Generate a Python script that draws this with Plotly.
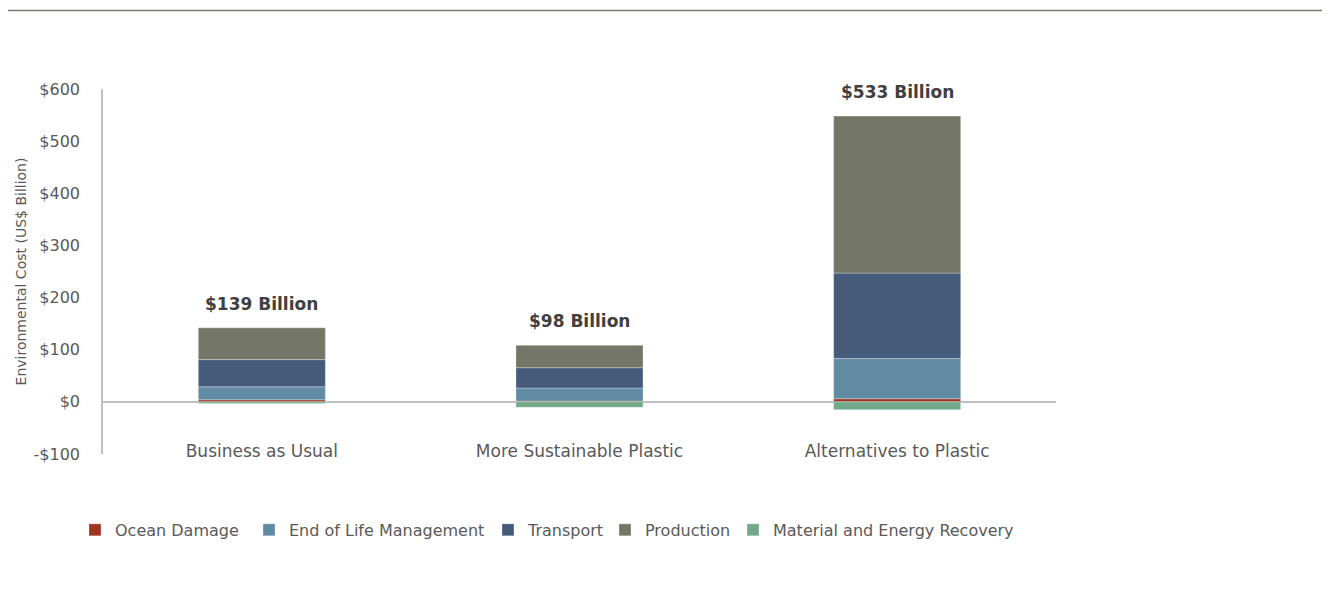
import plotly.graph_objects as go

categories = ["Business as Usual", "More Sustainable Plastic", "Alternatives to Plastic"]
ocean_damage = [4, 1.5, 6]
end_of_life = [25, 25, 77]
transport = [52, 39, 164]
production = [61, 43, 301]
recovery = [-3, -10.5, -15]
totals = [139, 98, 533]

y_tickvals = [-100, 0, 100, 200, 300, 400, 500, 600]
y_ticktext = ["-$100", "$0", "$100", "$200", "$300", "$400", "$500", "$600"]

series_names = ["Ocean Damage", "End of Life Management", "Transport",
                "Production", "Material and Energy Recovery"]
series_values = [ocean_damage, end_of_life, transport, production, recovery]
series_colors = ["#9C3522", "#618BA2", "#465B7A", "#747767", "#72A98A"]

FONT = "DejaVu Sans"
# page body has an 8px margin; figure size chosen to fill the 1330x605 window
W, H = 1322, 597
ML, MR, MT, MB = 95, 274, 81, 151
pw = W - ML - MR
ph = H - MT - MB

# legend entry text starts (page px) for the five separate legends
legend_text_px = [123, 297, 536, 653, 781]
legend_ids = ["legend", "legend2", "legend3", "legend4", "legend5"]

fig = go.Figure()
for name, vals, col, lid in zip(series_names, series_values, series_colors, legend_ids):
    fig.add_trace(go.Bar(
        x=categories, y=vals, name=name, legend=lid,
        marker=dict(color=col, line=dict(color="rgba(255,255,255,0.5)", width=0.6)),
        width=0.4,
    ))

pos_tops = [o + e + t + p for o, e, t, p in zip(ocean_damage, end_of_life, transport, production)]
for cat, top, tot in zip(categories, pos_tops, totals):
    fig.add_annotation(
        x=cat, y=top, text=f"<b>${tot} Billion</b>", showarrow=False,
        yanchor="bottom", yshift=12,
        font=dict(family=FONT, size=17, color="#404040"),
    )

fig.add_shape(type="line", xref="paper", yref="paper",
              x0=(-1 - ML) / pw, x1=(1322 - ML) / pw,
              y0=1 + (MT - 2.5) / ph, y1=1 + (MT - 2.5) / ph,
              line=dict(color="#7A7E6E", width=1.5))

legend_layouts = {}
for lid, tx in zip(legend_ids, legend_text_px):
    legend_layouts[lid] = dict(
        orientation="h", x=(tx - 8 - 48 - ML) / pw, xanchor="left",
        y=-0.208, yanchor="middle", bgcolor="rgba(0,0,0,0)",
        font=dict(family=FONT, size=16, color="#595959"),
        itemwidth=30,
    )

fig.update_layout(
    width=W, height=H,
    margin=dict(l=ML, r=MR, t=MT, b=MB, pad=0),
    barmode="relative",
    plot_bgcolor="white", paper_bgcolor="white",
    font=dict(family=FONT, color="#595959"),
    showlegend=True,
    xaxis=dict(
        showline=False, showgrid=False, ticks="",
        tickfont=dict(family=FONT, size=17, color="#595959"),
        range=[-0.5, 2.5], ticklabelstandoff=-15,
    ),
    yaxis=dict(
        range=[-100, 600],
        tickvals=y_tickvals, ticktext=y_ticktext,
        tickfont=dict(family=FONT, size=16, color="#595959"),
        showgrid=False, showline=True, linecolor="#BFBFBF", linewidth=1.5,
        zeroline=True, zerolinecolor="#BFBFBF", zerolinewidth=1.5,
        ticks="", ticklabelstandoff=18,
        title=dict(text="Environmental Cost (US$ Billion)", standoff=4,
                   font=dict(family=FONT, size=14, color="#595959")),
    ),
    **legend_layouts,
)

fig.write_html("out.html")
